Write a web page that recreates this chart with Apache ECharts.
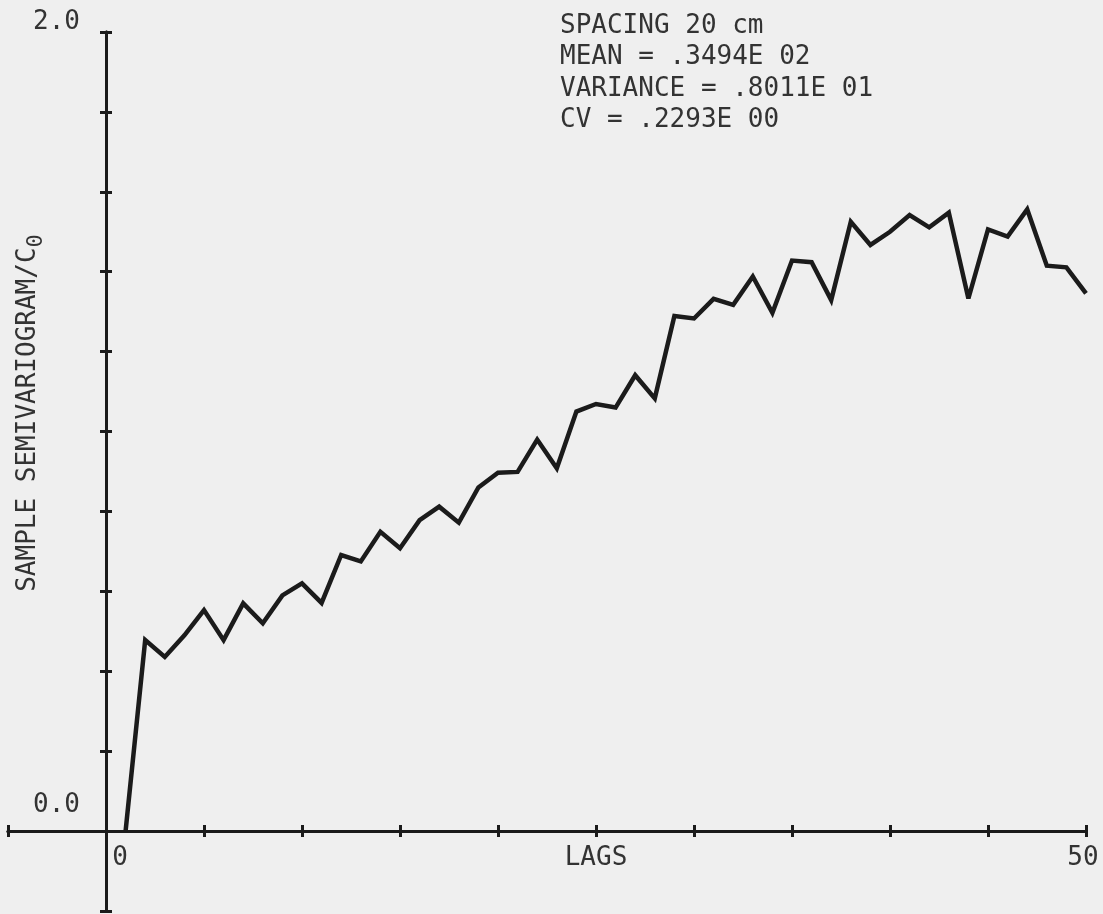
<!DOCTYPE html>
<html>
<head>
<meta charset="utf-8">
<script src="https://cdn.jsdelivr.net/npm/echarts@6/dist/echarts.min.js"></script>
<style>
  html, body { margin: 0; padding: 0; background: #efefef; }
  #chart { width: 1103px; height: 914px; }
</style>
</head>
<body>
<div id="chart"></div>
<script>
// Sample semivariogram (scaled by C0) against lag number
const lags = [1, 2, 3, 4, 5, 6, 7, 8, 9, 10,
              11, 12, 13, 14, 15, 16, 17, 18, 19, 20,
              21, 22, 23, 24, 25, 26, 27, 28, 29, 30,
              31, 32, 33, 34, 35, 36, 37, 38, 39, 40,
              41, 42, 43, 44, 45, 46, 47, 48, 49, 50];
const semivariogram = [0.0, 0.478, 0.436, 0.49, 0.553, 0.478, 0.57, 0.52, 0.59, 0.62,
                       0.571, 0.691, 0.675, 0.749, 0.708, 0.778, 0.812, 0.772, 0.86, 0.897,
                       0.899, 0.98, 0.908, 1.05, 1.069, 1.06, 1.141, 1.083, 1.289, 1.283,
                       1.332, 1.317, 1.388, 1.297, 1.428, 1.424, 1.329, 1.525, 1.467, 1.50,
                       1.542, 1.511, 1.548, 1.333, 1.506, 1.488, 1.556, 1.415, 1.411, 1.346];
const xTickLabels = { 0: '{z|0}', 25: 'LAGS', 50: '{f|50}' };
const yTickLabels = { 0: '{lo|0.0}', 2: '{hi|2.0}' };
const statsLines = ['SPACING 20 cm', 'MEAN = .3494E 02', 'VARIANCE = .8011E 01', 'CV = .2293E 00'];

const INK = '#1b1b1b';
const TEXT = '#333333';
const FONT = '"DejaVu Sans Mono", monospace';
const FS = 26;

const chart = echarts.init(document.getElementById('chart'), null, { renderer: 'canvas' });

const axisLine = { show: true, onZero: true, lineStyle: { color: INK, width: 3 } };
const tick = { show: true, inside: false, length: 6, lineStyle: { color: INK, width: 3 } };

const xBase = { type: 'value', min: -5, max: 50, interval: 5, splitLine: { show: false },
                axisLine: axisLine, axisTick: tick };
const yBase = { type: 'value', min: -0.2, max: 2.0, interval: 0.2, splitLine: { show: false },
                axisLine: axisLine, axisTick: tick };

chart.setOption({
  backgroundColor: '#efefef',
  animation: false,
  grid: { left: 8, right: 17, top: 32, bottom: 3, containLabel: false, outerBoundsMode: 'none' },
  xAxis: [
    Object.assign({}, xBase, {
      position: 'bottom',
      axisLabel: {
        show: true, margin: -66, color: TEXT, fontFamily: FONT, fontSize: FS,
        showMinLabel: true, showMaxLabel: true,
        formatter: v => xTickLabels[Math.round(v)] !== undefined && Math.abs(v - Math.round(v)) < 1e-6 ? xTickLabels[Math.round(v)] : '',
        rich: {
          z: { fontFamily: FONT, fontSize: FS, color: TEXT, padding: [0, 0, 0, 28] },
          f: { fontFamily: FONT, fontSize: FS, color: TEXT, padding: [0, 6, 0, 0] }
        }
      }
    }),
    Object.assign({}, xBase, { position: 'top', axisLabel: { show: false } })
  ],
  yAxis: [
    Object.assign({}, yBase, {
      position: 'left',
      axisLabel: {
        show: true, margin: -72, color: TEXT, fontFamily: FONT, fontSize: FS,
        showMinLabel: true, showMaxLabel: true,
        formatter: v => {
          const k = Math.round(v * 10) / 10;
          return yTickLabels[k] !== undefined ? yTickLabels[k] : '';
        },
        rich: {
          lo: { fontFamily: FONT, fontSize: FS, color: TEXT, padding: [0, 0, 52, 0] },
          hi: { fontFamily: FONT, fontSize: FS, color: TEXT, padding: [0, 0, 20, 0] }
        }
      }
    }),
    Object.assign({}, yBase, { position: 'right', axisLabel: { show: false } })
  ],
  series: [{
    type: 'line',
    xAxisIndex: 0,
    yAxisIndex: 0,
    data: lags.map((l, i) => [l, semivariogram[i]]),
    symbol: 'none',
    clip: false,
    lineStyle: { color: INK, width: 4.5, join: 'miter', miterLimit: 3 }
  }],
  graphic: [
    {
      type: 'text',
      left: 560,
      top: 10,
      style: {
        text: statsLines.join('\n'),
        font: FS + 'px ' + FONT,
        fill: TEXT,
        lineHeight: 31.5
      }
    },
    {
      type: 'text',
      x: 28,
      y: 413,
      rotation: Math.PI / 2,
      style: {
        text: '{a|SAMPLE SEMIVARIOGRAM/C}{s|0}',
        align: 'center',
        verticalAlign: 'middle',
        rich: {
          a: { fontFamily: FONT, fontSize: FS, fill: TEXT, color: TEXT },
          s: { fontFamily: FONT, fontSize: 22, fill: TEXT, color: TEXT, padding: [16, 0, 0, 0] }
        }
      }
    }
  ]
});
</script>
</body>
</html>
